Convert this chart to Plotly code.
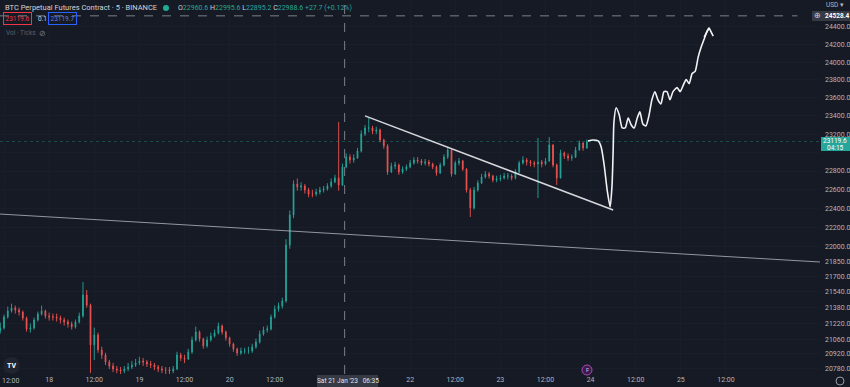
import pandas as pd
import plotly.graph_objects as go

# ---------------- data (hourly aggregation) ----------------
first_open = 21150
close = [
    21176, 21286, 21346, 21376, 21356, 21336, 21276, 21166, 21176, 21256,
    21316, 21346, 21296, 21286, 21286, 21276, 21256, 21236, 21216, 21186,
    21236, 21296, 21507, 21406, 21007, 21106, 20958, 20908, 20839, 20800,
    20771, 20761, 20751, 20771, 20790, 20810, 20830, 20849, 20839, 20820,
    20810, 20790, 20771, 20761, 20761, 20751, 20771, 20908, 20879, 20869,
    20938, 21057, 21136, 21067, 20998, 21057, 21096, 21126, 21196, 21136,
    21077, 21017, 20968, 20928, 20948, 20948, 20948, 20988, 21037, 21116,
    21156, 21166, 21286, 21366, 21396, 21447, 22020, 22333, 22661, 22629,
    22640, 22597, 22554, 22554, 22576, 22597, 22608, 22640, 22683, 22726,
    22651, 22843, 22951, 22919, 22941, 23016, 23201, 23267, 23267, 23234,
    23245, 23136, 23071, 22790, 22854, 22865, 22790, 22822, 22843, 22886,
    22919, 22908, 22886, 22897, 22876, 22843, 22779, 22865, 22951, 23027,
    22768, 22886, 22908, 22822, 22597, 22407, 22597, 22672, 22736, 22768,
    22747, 22704, 22715, 22726, 22747, 22747, 22726, 22790, 22886, 22919,
    22897, 22886, 22876, 22897, 22876, 22908, 23082, 22865, 22726, 22995,
    22962, 22941, 22951, 23027, 23104, 23049, 23119.6,
]
high = [
    21230, 21310, 21390, 21420, 21400, 21380, 21350, 21290, 21220, 21280,
    21340, 21400, 21360, 21330, 21320, 21320, 21300, 21280, 21260, 21240,
    21260, 21330, 21640, 21558, 21420, 21180, 21130, 20990, 20930, 20860,
    20830, 20800, 20790, 20800, 20830, 20850, 20870, 20890, 20880, 20860,
    20850, 20830, 20810, 20800, 20790, 20790, 20800, 20940, 20930, 20910,
    20970, 21090, 21190, 21150, 21080, 21090, 21130, 21160, 21230, 21210,
    21150, 21090, 21030, 20980, 20980, 20980, 20990, 21020, 21070, 21150,
    21190, 21200, 21310, 21400, 21430, 21480, 22080, 22380, 22700, 22720,
    22680, 22660, 22620, 22600, 22610, 22630, 22640, 22670, 22720, 22760,
    23332, 22880, 22990, 22980, 22980, 23050, 23240, 23300, 23377, 23290,
    23280, 23260, 23150, 23090, 22890, 22900, 22880, 22850, 22870, 22920,
    22950, 22950, 22930, 22930, 22920, 22890, 22860, 22890, 22980, 23060,
    23040, 22910, 22940, 22920, 22830, 22620, 22630, 22700, 22770, 22800,
    22790, 22760, 22750, 22760, 22780, 22780, 22770, 22820, 22910, 22960,
    22940, 22920, 22910, 23157, 22920, 22940, 23168, 23090, 22880, 23030,
    23010, 22990, 22980, 23060, 23130, 23110, 23140,
]
low = [
    21120, 21160, 21270, 21330, 21320, 21300, 21250, 21140, 21130, 21160,
    21240, 21300, 21270, 21250, 21250, 21240, 21220, 21200, 21180, 21160,
    21170, 21220, 21280, 21380, 20732, 20859, 20930, 20870, 20810, 20770,
    20740, 20730, 20720, 20730, 20750, 20770, 20790, 20810, 20800, 20790,
    20780, 20760, 20740, 20730, 20720, 20720, 20730, 20760, 20850, 20830,
    20860, 20920, 21040, 21040, 20970, 20980, 21040, 21080, 21110, 21110,
    21050, 20990, 20940, 20900, 20910, 20920, 20920, 20930, 20970, 21020,
    21100, 21130, 21150, 21270, 21340, 21370, 21430, 21980, 22300, 22590,
    22590, 22560, 22520, 22520, 22530, 22550, 22570, 22590, 22620, 22670,
    22590, 22640, 22830, 22880, 22890, 22930, 23000, 23180, 23220, 23200,
    23200, 23110, 23040, 22760, 22780, 22820, 22760, 22770, 22800, 22830,
    22870, 22880, 22860, 22860, 22850, 22820, 22750, 22770, 22850, 22930,
    22740, 22760, 22860, 22800, 22570, 22312, 22390, 22580, 22660, 22720,
    22720, 22680, 22680, 22690, 22710, 22710, 22700, 22710, 22780, 22870,
    22860, 22850, 22840, 22512, 22840, 22860, 22900, 22840, 22651, 22720,
    22930, 22910, 22910, 22940, 23020, 23020, 23040,
]
start_time = "2023-01-17 11:00"

# drawings (time, price)
trend_t = ["2023-01-21 12:00", "2023-01-24 06:00"]
trend_p = [23400, 22386]
ray_t = ["2023-01-17 10:56", "2023-01-26 13:00"]
ray_p = [22343, 21844]
sketch_t = ["2023-01-23 23:18", "2023-01-24 00:36", "2023-01-24 02:00", "2023-01-24 02:48",
            "2023-01-24 03:36", "2023-01-24 04:24", "2023-01-24 05:12", "2023-01-24 05:42",
            "2023-01-24 06:00", "2023-01-24 06:12", "2023-01-24 06:48", "2023-01-24 07:36",
            "2023-01-24 08:24", "2023-01-24 09:12", "2023-01-24 10:00", "2023-01-24 10:48",
            "2023-01-24 11:36", "2023-01-24 12:24", "2023-01-24 13:06", "2023-01-24 13:54",
            "2023-01-24 14:42", "2023-01-24 15:30", "2023-01-24 16:18", "2023-01-24 17:06",
            "2023-01-24 17:54", "2023-01-24 18:42", "2023-01-24 19:30", "2023-01-24 20:18",
            "2023-01-24 21:06", "2023-01-24 21:54", "2023-01-24 23:00", "2023-01-24 23:48",
            "2023-01-25 00:36", "2023-01-25 01:24", "2023-01-25 02:12", "2023-01-25 03:00",
            "2023-01-25 03:48", "2023-01-25 04:36", "2023-01-25 05:24", "2023-01-25 06:12",
            "2023-01-25 07:00", "2023-01-25 07:30"]
sketch_p = [23125, 23136, 23125, 23060, 22865, 22597, 22418, 22651, 23027, 23333,
            23490, 23412, 23267, 23267, 23377, 23300, 23267, 23377, 23444, 23311,
            23289, 23400, 23578, 23668, 23578, 23533, 23668, 23668, 23578, 23668,
            23713, 23668, 23736, 23804, 23758, 23872, 23895, 24056, 24170, 24262,
            24355, 24389]
arrow_t = ["2023-01-25 06:12", "2023-01-25 07:30", "2023-01-25 08:36"]
arrow_p = [24285, 24389, 24296]
cross_t = "2023-01-21 06:35"
cross_p = 24528.4
last_price = 23119.6

y_ticks = [24400, 24200, 24000, 23800, 23600, 23400, 23200, 23000, 22800, 22600,
           22400, 22200, 22000, 21850, 21700, 21540, 21380, 21220, 21060, 20920, 20780]
hidden_y_ticks = [23000]  # covered by the last-price tag in the reference
x_tick_t = ["2023-01-17 12:00", "2023-01-18 00:00", "2023-01-18 12:00", "2023-01-19 00:00",
            "2023-01-19 12:00", "2023-01-20 00:00", "2023-01-20 12:00", "2023-01-22 00:00",
            "2023-01-22 12:00", "2023-01-23 00:00", "2023-01-23 12:00", "2023-01-24 00:00",
            "2023-01-24 12:00", "2023-01-25 00:00", "2023-01-25 12:00"]
x_tick_text = ["12:00", "18", "12:00", "19", "12:00", "20", "12:00", "22",
               "12:00", "23", "12:00", "24", "12:00", "25", "12:00"]

# ---------------- styling ----------------
BG = "#161a25"
UP = "#26a69a"
DN = "#ef5350"
TXT = "#b2b5be"
FONT = "Roboto"
W, H = 850, 387
ML, MR, MT, MB = 0, 30, 0, 13
PW, PH = W - ML - MR, H - MT - MB


def px(x):
    return (x - ML) / PW


def py(y):
    return 1 - (y - MT) / PH


times = pd.date_range(start_time, periods=len(close), freq="h")
opens = [first_open] + close[:-1]

fig = go.Figure()
fig.add_trace(go.Candlestick(
    x=times, open=opens, high=high, low=low, close=close,
    increasing=dict(line=dict(color=UP, width=0.9), fillcolor=UP),
    decreasing=dict(line=dict(color=DN, width=0.9), fillcolor=DN),
    whiskerwidth=0, hoverinfo="skip", showlegend=False,
))

# last-price line
fig.add_trace(go.Scatter(x=[ray_t[0], ray_t[1]], y=[last_price, last_price], mode="lines",
                         line=dict(color="rgba(38,166,154,0.35)", width=1, dash="dot"),
                         hoverinfo="skip", showlegend=False))
# long ray
fig.add_trace(go.Scatter(x=ray_t, y=ray_p, mode="lines",
                         line=dict(color="rgba(190,192,200,0.75)", width=1),
                         hoverinfo="skip", showlegend=False))
# trend line
fig.add_trace(go.Scatter(x=trend_t, y=trend_p, mode="lines",
                         line=dict(color="rgba(235,235,240,0.9)", width=1.5),
                         hoverinfo="skip", showlegend=False))
# freehand sketch
fig.add_trace(go.Scatter(x=sketch_t, y=sketch_p, mode="lines",
                         line=dict(color="#f2f2f5", width=1.6, shape="spline", smoothing=0.6),
                         hoverinfo="skip", showlegend=False))
fig.add_trace(go.Scatter(x=arrow_t, y=arrow_p, mode="lines",
                         line=dict(color="#f2f2f5", width=1.6),
                         hoverinfo="skip", showlegend=False))
# crosshair horizontal
fig.add_trace(go.Scatter(x=[ray_t[0], "2023-01-26 07:00"], y=[cross_p, cross_p], mode="lines",
                         line=dict(color="rgba(149,152,161,0.8)", width=1, dash="dash"),
                         hoverinfo="skip", showlegend=False))

shapes = [
    dict(type="line", xref="x", yref="paper", x0=cross_t, x1=cross_t, y0=0, y1=1,
         line=dict(color="rgba(149,152,161,0.8)", width=1, dash="dash")),
    # current price box
    dict(type="rect", xref="paper", yref="paper", x0=px(821), x1=px(850), y0=py(151), y1=py(137),
         fillcolor=UP, line=dict(width=0)),
    # crosshair price box
    dict(type="rect", xref="paper", yref="paper", x0=px(812), x1=px(850), y0=py(21), y1=py(11),
         fillcolor="#363a45", line=dict(width=0)),
    # crosshair time box
    dict(type="rect", xref="paper", yref="paper", x0=px(317), x1=px(378), y0=py(387), y1=py(375),
         fillcolor="#363a45", line=dict(width=0)),
    # green status dot
    dict(type="circle", xref="paper", yref="paper", x0=px(163), x1=px(169), y0=py(11), y1=py(5),
         fillcolor="#22ab94", line=dict(width=0)),
    # TV logo
    dict(type="circle", xref="paper", yref="paper", x0=px(3), x1=px(20), y0=py(374), y1=py(357),
         fillcolor="#20242f", line=dict(width=0)),
    # purple event marker
    dict(type="circle", xref="paper", yref="paper", x0=px(582), x1=px(592), y0=py(375), y1=py(365),
         fillcolor="rgba(156,39,176,0.25)", line=dict(color="#ab47bc", width=1)),
    # gear
    dict(type="circle", xref="paper", yref="paper", x0=px(836), x1=px(844), y0=py(385), y1=py(377),
         fillcolor="rgba(0,0,0,0)", line=dict(color="#9598a1", width=1)),
]

ann = []


def text(x, y, s, size=7, color=TXT, xanchor="left", **kw):
    ann.append(dict(xref="paper", yref="paper", x=px(x), y=py(y), text=s, showarrow=False,
                    xanchor=xanchor, yanchor="middle", font=dict(family=FONT, size=size, color=color), **kw))


text(3, 8, "BTC Perpetual Futures Contract · 5 · BINANCE", size=7.5, color="#d1d4dc")
g = "<span style='color:#26a69a'>%s</span>"
text(176, 8, "O" + g % "22960.6" + " H" + g % "22995.6" + " L" + g % "22895.2" + " C" + g % "22988.6"
     + " " + g % "+27.7 (+0.12%)", size=7, color="#d1d4dc")
text(3, 19, "23119.6", size=6.5, color="#f23645", bordercolor="#f23645", borderwidth=1, borderpad=1.5)
text(36, 19, "0.1", size=6.5, color="#d1d4dc")
text(48, 19, "23119.7", size=6.5, color="#5b7fe6", bordercolor="#2962ff", borderwidth=1, borderpad=1.5)
text(4, 33, "Vol · Ticks", size=6.5, color="#5d606b")
text(37, 33, "⊘", size=8, color="#787b86")
text(824, 5, "USD ▾", size=6.5, color=TXT)
text(835.5, 141, "23119.6", size=6.5, color="white", xanchor="center")
text(835.5, 148, "04:15", size=6.5, color="white", xanchor="center")
text(817, 16, "⊕", size=8, color="#d1d4dc", xanchor="center")
text(837, 16, "<b>24528.4</b>", size=6.5, color="white", xanchor="center")
text(347.5, 381, "Sat 21 Jan '23   06:35", size=6.5, color="#e0e3eb", xanchor="center")
text(11.5, 365.5, "<b>TV</b>", size=7, color="white", xanchor="center")
text(587, 370, "F", size=5.5, color="#e1bee7", xanchor="center")
# first time label sits at the left edge (clipped in the reference)
text(0, 381, "12:00", size=7, color=TXT)

fig.update_layout(
    width=W, height=H, margin=dict(l=ML, r=MR, t=MT, b=MB, autoexpand=False),
    paper_bgcolor=BG, plot_bgcolor=BG, showlegend=False, boxgap=0.7,
    shapes=shapes, annotations=ann,
    font=dict(family=FONT, size=7, color=TXT),
    xaxis=dict(type="date", range=["2023-01-17 10:56", "2023-01-26 13:00"], automargin=False,
               rangeslider=dict(visible=False), showgrid=True, gridcolor="#1a1e2a",
               tickvals=x_tick_t, ticktext=x_tick_text, ticks="", zeroline=False,
               showline=False, tickfont=dict(size=7, color=TXT, family=FONT)),
    yaxis=dict(type="log", side="right", range=[4.31643, 4.39291], showgrid=True, automargin=False,
               gridcolor="#1a1e2a", tickvals=y_ticks,
               ticktext=["" if v in hidden_y_ticks else f"{v:.1f}" for v in y_ticks],
               ticks="", ticklabelstandoff=4, zeroline=False, showline=False,
               tickfont=dict(size=7, color=TXT, family=FONT)),
)

fig.write_html(
    "out.html",
    config={"displayModeBar": False},
    post_script="document.body.style.margin='0';document.body.style.background='%s';" % BG,
)
